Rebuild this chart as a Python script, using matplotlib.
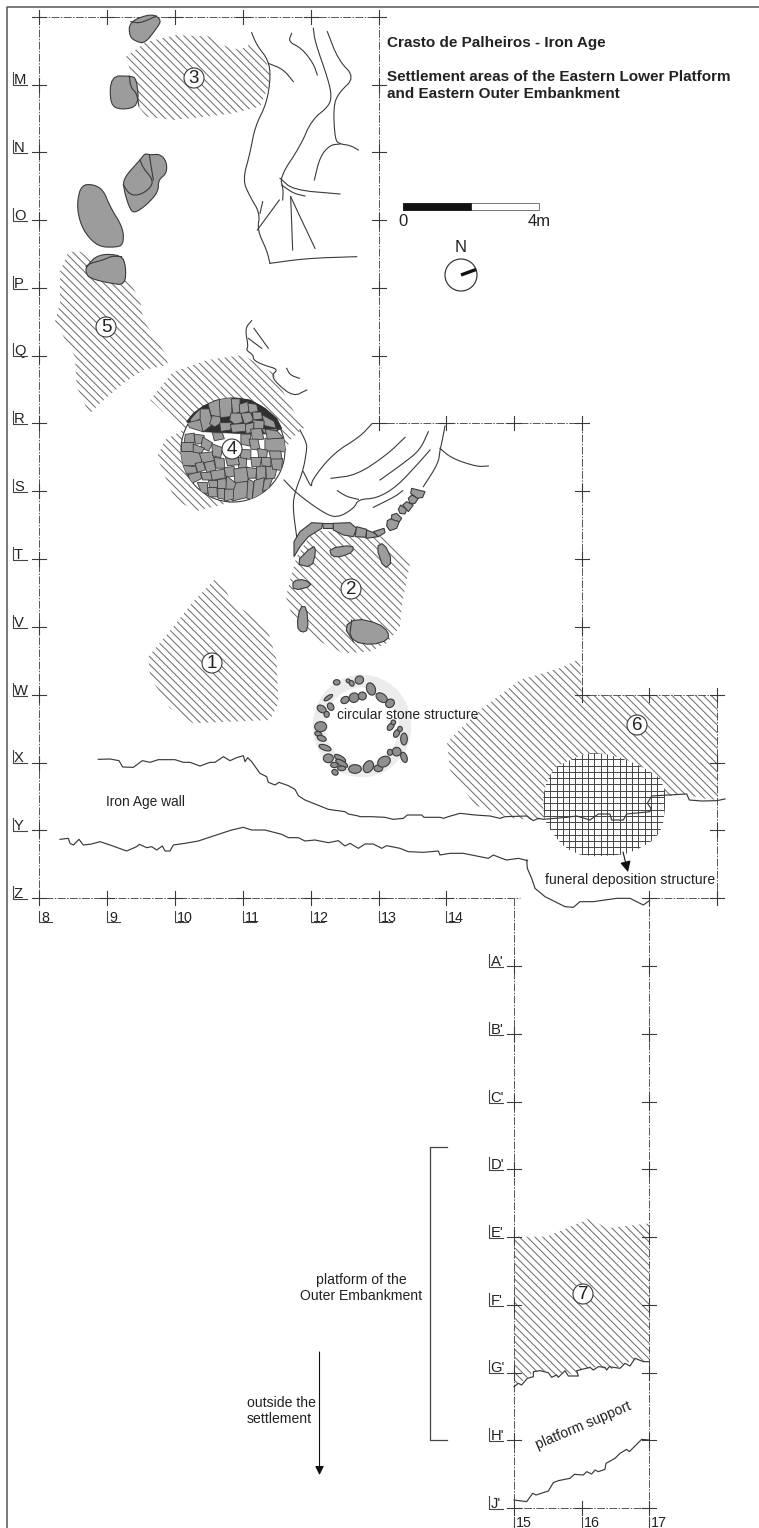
import numpy as np
import matplotlib
matplotlib.use("Agg")
import matplotlib.pyplot as plt
from matplotlib.collections import LineCollection
from matplotlib.patches import Polygon, Circle, Ellipse, Rectangle

plt.rcParams['font.family'] = ['Liberation Sans', 'DejaVu Sans']

# grid of the excavation, pixel positions of the squares
col_x = {8: 39, 9: 107, 10: 175, 11: 243, 12: 311, 13: 379, 14: 446, 15: 514, 16: 582, 17: 649, 18: 717}
row_y = {"L": 16.5, "M": 84.5, "N": 152, "O": 220, "P": 288, "Q": 355.5, "R": 423, "S": 491, "T": 559,
         "V": 627, "W": 695, "X": 762.5, "Y": 830, "Z": 898, "A'": 966, "B'": 1034, "C'": 1102, "D'": 1169,
         "E'": 1237, "F'": 1305, "G'": 1372.5, "H'": 1440, "J'": 1508}
row_labels = ["M", "N", "O", "P", "Q", "R", "S", "T", "V", "W", "X", "Y", "Z"]
row_labels2 = ["A'", "B'", "C'", "D'", "E'", "F'", "G'", "H'", "J'"]
col_labels = [8, 9, 10, 11, 12, 13, 14]
col_labels2 = [15, 16, 17]

# settlement areas (hatched)
area_1 = [(55,950),(130,860),(185,790),(260,712),(290,755),(310,800),(340,810),(410,860),(440,960),(445,1090),(420,1140),(190,1150),(120,1105),(60,1010)]
area_2 = [(500,650),(550,570),(760,590),(840,670),(815,800),(810,860),(770,910),(720,935),(640,940),(560,900),(490,840),(468,770),(488,690)]
area_3 = [(378,170),(440,125),(530,105),(640,110),(665,135),(720,150),(755,130),(800,190),(810,215),(805,260),(780,320),(700,340),(620,350),(520,360),(440,350),(415,320),(400,250),(390,210)]
area_4 = [(150,400),(173,372),(207,360),(243,355),(273,373),(293,410),(305,427),(290,440),(282,462),(240,500),(197,511),(175,500),(157,457),(165,440),(183,430)]
area_5 = [(205,755),(240,755),(300,790),(380,830),(420,900),(430,960),(495,1060),(505,1095),(430,1110),(370,1150),(300,1210),(270,1240),(260,1225),(230,1160),(225,1070),(165,965),(180,910),(180,815)]
area_6 = [(447,742),(480,710),(520,680),(560,668),(580,659),(582,695),(717,695),(717,800),(700,798),(686,794),(662,797),(650,812),(532,820),(510,818),(475,805),(450,770)]
area_7 = [(822,320),(920,320),(1050,265),(1100,295),(1228,280),(1228,695),(1180,690),(1130,715),(1100,718),(1075,710),(1050,715),(1015,718),(1010,740),(975,725),(945,740),(925,725),(880,725),(860,745),(822,770)]
funeral = [(170,40),(215,40),(280,55),(345,85),(405,125),(405,230),(385,290),(330,325),(280,345),(165,350),(105,325),(60,270),(40,230),(40,150),(70,85),(120,60)]

# big stones with their inner joints
stones_top = [
    [(388,65),(455,40),(485,60),(470,85),(435,130),(410,125),(388,110)],
    [(332,228),(390,228),(410,235),(417,318),(365,330),(330,315)],
    [(370,535),(420,480),(435,460),(450,465),(480,462),(500,485),(500,520),(475,540),(475,575),(440,615),(400,642),(385,615),(372,570)],
    [(232,600),(245,555),(280,553),(310,570),(330,620),(370,685),(370,735),(345,742),(295,740),(255,700),(235,650)],
    [(258,800),(295,762),(365,765),(378,800),(375,855),(330,850),(270,835),(258,820)],
]
joints_top = [
    [(392,65),(420,70),(470,48)],
    [(388,228),(392,262),(410,280),(417,318)],
    [(420,480),(430,505),(460,540),(450,565),(420,585),(390,585),(370,555)],
    [(448,465),(460,540)],
    [(258,800),(270,790),(310,780),(335,768),(365,770)],
]
terrain_top = [
    [(755,98),(770,135),(805,180),(812,230),(800,310),(765,380),(750,460),(728,540),(750,590),(780,640),(772,690),(800,750),(810,790)],
    [(810,790),(920,775),(1070,770)],
    [(780,640),(788,605)],
    [(772,690),(838,600)],
    [(805,190),(850,208),(880,245)],
    [(875,100),(865,125),(905,145),(940,190),(952,225)],
    [(940,85),(945,125),(985,240),(995,290),(985,320),(935,360),(900,440),(840,530),(850,570),(848,600)],
    [(982,95),(1015,180),(1065,232),(1015,280),(1000,320),(1005,420),(1020,432),(1050,436),(1075,450)],
    [(1020,432),(990,435),(960,470),(943,540)],
    [(840,535),(880,570),(1020,582)],
    [(845,555),(880,580),(915,588)],
    [(872,590),(878,750)],
    [(872,590),(900,650),(945,745)],
    [(755,962),(735,985),(745,1040),(738,1050),(760,1065),(760,1080),(790,1095),(835,1108),(815,1125),(830,1150),(880,1190),(920,1170)],
    [(762,985),(805,1045)],
    [(745,1015),(785,1045)],
    [(860,1105),(870,1125),(898,1135)],
]
terrain_mid = [
    [(510,270),(530,310),(530,330),(520,390),(495,455),(488,500),(500,590)],
    [(462,420),(500,460),(575,515),(620,535),(672,505),(685,478),(740,475),(800,440),(865,370),(900,330)],
    [(622,452),(650,470),(685,478)],
    [(725,252),(690,290),(610,340),(545,420),(545,445),(520,395)],
    [(603,415),(680,405),(770,345),(825,292)],
    [(750,420),(820,370),(870,330),(895,275)],
    [(730,502),(795,470),(818,452)],
    [(945,258),(935,310),(930,330),(925,370),(880,440)],
    [(930,325),(965,355),(1040,380),(1075,378)],
]
# tiles of the curved stone line above area 2
arc_tiles = [
    [(492,650),(492,605),(510,575),(545,548),(578,550),(575,565),(535,590),(510,620)],
    [(575,548),(608,548),(608,565),(578,565)],
    [(610,550),(660,548),(680,565),(670,590),(640,585),(610,570)],
    [(680,560),(710,568),(708,592),(675,590)],
    [(710,570),(735,580),(745,590),(708,595)],
    [(730,575),(762,565),(765,578),(745,590)],
]
arc_chain = [
    [(322,212),(335,205),(358,215),(350,235),(330,242),(320,228)],
    [(335,195),(350,190),(365,205),(358,215),(335,208)],
    [(355,178),(362,165),(380,178),(375,192),(360,190)],
    [(368,165),(380,155),(400,165),(385,185)],
    [(385,145),(395,135),(415,145),(405,160),(390,160)],
    [(395,115),(435,125),(428,142),(412,145),(392,130)],
]
stones_t = [
    [(495,670),(550,615),(558,635),(545,683)],
    [(598,625),(668,615),(670,635),(635,650),(605,650)],
    [(738,620),(762,608),(788,665),(762,688)],
    [(488,722),(525,718),(548,738),(490,752)],
    [(510,800),(530,800),(535,870),(515,878),(500,860)],
    [(642,860),(680,835),(745,850),(775,875),(775,900),(725,915),(670,905)],
]
arc_joint = [(665,840),(660,880),(670,905)]

# paved circle of area 4
paving_dark = [(50,95),(70,70),(100,48),(140,30),(190,25),(240,30),(285,55),(320,85),(335,115),(300,132),(200,130),(100,125)]
paving_stones = [
    [(148,28),(183,28),(182,75),(150,78)],[(115,35),(145,30),(148,78),(125,72)],[(90,62),(115,62),(125,100),(100,120),(90,100)],
    [(60,70),(88,62),(88,85),(65,100)],[(128,80),(148,82),(150,98),(135,108),(122,100)],[(186,30),(208,30),(208,62),(190,70)],
    [(210,45),(232,38),(235,62),(212,70)],[(236,42),(258,45),(262,62),(240,68)],[(185,72),(210,72),(215,95),(195,100),(182,90)],
    [(152,100),(182,100),(180,118),(155,122)],[(216,72),(240,70),(248,90),(225,100)],[(250,68),(272,68),(275,85),(252,88)],
    [(280,78),(310,95),(315,112),(285,105)],[(250,92),(280,95),(278,115),(255,118)],[(185,105),(225,102),(225,122),(190,125)],
    [(228,105),(250,100),(248,125),(230,128)],[(278,118),(320,118),(308,130),(285,128)],[(55,100),(88,92),(95,122),(62,112)],
    [(290,148),(342,148),(342,182),(290,180)],[(35,188),(90,188),(90,222),(38,225)],[(192,280),(228,278),(232,318),(190,328)],
    [(48,135),(70,132),(72,155),(45,158)],[(75,135),(100,138),(100,158),(78,160)],[(38,160),(68,160),(70,182),(38,182)],
    [(100,145),(125,160),(115,180),(95,172)],[(72,165),(100,175),(92,188),(72,185)],[(92,192),(125,188),(130,210),(100,218)],
    [(40,228),(75,232),(78,248),(48,248)],[(78,222),(98,218),(104,238),(85,245)],[(105,220),(130,215),(135,240),(112,245)],
    [(135,205),(160,208),(162,232),(140,232)],[(130,130),(155,130),(160,145),(135,150)],[(128,165),(155,175),(150,200),(130,195)],
    [(215,135),(240,135),(238,165),(215,160)],[(245,120),(272,118),(278,145),(250,148)],[(290,120),(320,125),(335,142),(295,145)],
    [(240,150),(262,150),(268,178),(245,175)],[(265,178),(290,182),(288,200),(268,200)],[(212,180),(240,182),(240,205),(215,205)],
    [(205,205),(228,208),(226,232),(208,232)],[(170,205),(200,200),(205,222),(175,225)],[(165,235),(190,232),(195,255),(170,260)],
    [(195,240),(230,235),(232,270),(198,275)],[(232,235),(258,238),(255,262),(236,262)],[(262,232),(285,232),(285,262),(262,268)],
    [(290,232),(320,228),(312,262),(292,265)],[(305,205),(335,208),(332,238),(310,235)],[(275,205),(300,205),(300,228),(278,225)],
    [(245,205),(272,205),(268,228),(248,228)],[(300,185),(330,185),(332,205),(305,205)],[(58,255),(88,248),(92,265),(65,278)],
    [(95,250),(120,248),(125,268),(100,268)],[(125,245),(160,240),(162,262),(130,268)],[(85,280),(110,280),(112,308),(95,305)],
    [(115,295),(138,292),(140,318),(118,318)],[(142,272),(165,268),(170,295),(145,295)],[(115,272),(138,272),(138,290),(118,290)],
    [(165,300),(188,298),(188,325),(165,330)],[(172,262),(195,280),(190,295),(170,295)],[(235,272),(250,280),(245,325),(232,320)],
    [(255,275),(280,268),(275,310),(250,322)],[(285,270),(305,268),(295,295),(280,300)],[(145,298),(162,298),(162,325),(145,322)],
]

# circular stone structure: x, y, width, height, angle
ring_stones = [
    (110,52,20,16,0),(145,48,14,11,30),(155,55,14,18,-30),(178,45,26,24,-30),(213,72,26,38,-20),(245,98,38,24,35),
    (270,115,24,28,50),(85,98,30,11,-35),(135,105,26,20,-30),(162,98,30,28,-30),(187,93,24,24,0),(92,125,18,24,-30),
    (65,132,30,20,35),(80,148,16,18,0),(62,185,36,30,0),(55,207,22,14,20),(65,220,28,16,20),(75,248,38,16,20),
    (85,280,30,26,0),(120,280,38,16,30),(125,295,40,16,30),(103,300,22,16,0),(105,322,20,16,30),(125,310,24,14,0),
    (165,312,38,26,0),(205,305,28,38,30),(235,310,26,20,0),(252,290,40,30,-30),(270,262,16,18,0),(290,260,26,26,30),
    (312,277,18,32,-20),(312,222,20,36,0),(290,205,26,16,-60),(272,185,26,16,-50),(300,192,14,16,0),(280,172,14,14,0),
]

# walls, one list per crop
wall_upper_a = [(130,43),(165,42),(192,47),(203,66),(235,67),(262,47),(285,52),(310,44),(360,44),(385,52),(405,52),(435,63),(465,52),(480,52),(505,35),(525,47),(545,38),(565,32),(570,50),(578,38),(590,50),(615,85),(635,95),(640,112),(660,120),(672,112),(700,122),(720,133),(730,152),(750,165),(780,177)]
wall_upper_b = [(45,42),(85,58),(135,65),(145,72),(175,78),(180,80),(215,80),(255,82),(280,88),(310,85),(322,75),(365,75),(372,82),(420,82),(430,85),(445,80),(480,70),(525,75),(570,78),(600,85),(615,80),(680,78),(700,92),(715,85)]
wall_upper_c = [(70,88),(140,82),(170,78),(210,90),(235,72),(270,72),(275,90),(310,90),(320,72),(390,65),(393,55),(382,40),(395,18),(445,15),(500,12),(508,30),(545,33),(590,32),(615,27)]
wall_lower_a = [(15,283),(40,280),(45,295),(55,300),(72,283),(85,300),(110,297),(135,290),(165,300),(215,318),(245,305),(253,298),(275,308),(290,305),(305,315),(322,303),(330,318),(345,318),(355,300),(390,295),(430,288),(490,268),(530,255),(565,247),(590,255),(630,255),(680,268),(700,278),(730,278),(750,288),(780,285)]
wall_lower_b = [(45,150),(85,158),(115,152),(135,168),(150,160),(175,175),(195,162),(220,162),(245,175),(260,167),(300,175),(325,185),(370,187),(415,183),(420,195),(450,190),(490,190),(540,200),(565,205),(580,195),(605,205),(620,210),(655,205),(683,212)]
wall_lower_c = [(20,210),(22,235),(35,265),(45,295),(75,320),(135,350),(160,352),(180,335),(220,335),(290,325),(330,325),(370,345),(388,332)]
platform_edge = [(822,770),(835,760),(845,765),(862,745),(880,740),(880,725),(900,722),(925,728),(935,742),(950,735),(955,742),(975,722),(985,738),(1015,738),(1010,722),(1050,712),(1060,720),(1075,710),(1095,712),(1100,720),(1108,710),(1140,715),(1155,700),(1170,708),(1185,685),(1210,695),(1228,695)]
platform_support = [(822,1110),(860,1115),(878,1090),(888,1095),(925,1083),(940,1058),(955,1052),(990,1045),(1003,1033),(1030,1035),(1040,1025),(1055,1032),(1065,1020),(1075,1025),(1095,1018),(1098,1000),(1125,985),(1140,970),(1160,958),(1168,965),(1205,928),(1228,930)]

area_numbers = {"1": (212,663), "2": (351,589), "3": (194,78), "4": (232,449), "5": (106,327), "6": (637,725), "7": (583,1294)}

TEXT = '#222222'
LINE = '#3a3a3a'
STONE = '#9c9c9c'


def crop(pts, x0, y0, sx=3.0, sy=3.0):
    # positions were read on zoomed crops, back to image pixels
    return [(x0 + x / sx, y0 + y / sy) for x, y in pts]


def rounded(pts, closed=True, n=2):
    # corner cutting so that stones and terrain do not look like polygons
    for _ in range(n):
        out = [] if closed else [pts[0]]
        m = len(pts) if closed else len(pts) - 1
        for i in range(m):
            a, b = pts[i], pts[(i + 1) % len(pts)]
            out.append((0.75 * a[0] + 0.25 * b[0], 0.75 * a[1] + 0.25 * b[1]))
            out.append((0.25 * a[0] + 0.75 * b[0], 0.25 * a[1] + 0.75 * b[1]))
        if not closed:
            out.append(pts[-1])
        pts = out
    return pts


def grown(pts, f):
    c = np.mean(pts, axis=0)
    return [(c[0] + f * (x - c[0]), c[1] + f * (y - c[1])) for x, y in pts]


fig = plt.figure(figsize=(7.59, 15.28), dpi=100)
ax = fig.add_axes([0, 0, 1, 1])
ax.set_xlim(0, 759)
ax.set_ylim(1528, 0)
ax.axis('off')


def hatch(pts, step=7.8, color='#707070', lw=0.75):
    poly = Polygon(pts, closed=True, fill=False, edgecolor='none')
    ax.add_patch(poly)
    arr = np.array(pts)
    c = arr[:, 1] - arr[:, 0]
    x0, x1 = arr[:, 0].min() - 5, arr[:, 0].max() + 5
    segs = [[(x0, x0 + k), (x1, x1 + k)] for k in np.arange(np.floor(c.min() / step) * step, c.max() + step, step)]
    lc = LineCollection(segs, colors=color, linewidths=lw, zorder=1)
    ax.add_collection(lc)
    lc.set_clip_path(poly)


def line(pts, lw=0.8, color=LINE, z=4, **kw):
    ax.plot([p[0] for p in pts], [p[1] for p in pts], color=color, lw=lw, zorder=z, solid_joinstyle='round', **kw)


def stone(pts, lw=0.8, z=3):
    return ax.add_patch(Polygon(pts, closed=True, facecolor=STONE, edgecolor=LINE, lw=lw, zorder=z))


# frame
line([(759, 7), (7, 7), (7, 1528)], lw=1.1, color='#555555')

# hatched areas
hatch(crop(area_1, 130, 340))
hatch(crop(area_2, 130, 340))
hatch(crop(area_3, 0, 0))
hatch(area_4)
hatch(crop(area_5, 0, 0))
hatch(area_6)
hatch(crop(area_7, 240, 1130))

# funeral structure, squared
fun = rounded(crop(funeral, 530, 740), n=1)
ax.add_patch(Polygon(fun, closed=True, facecolor='white', edgecolor='none', zorder=1.5))
fun_clip = Polygon(fun, closed=True, fill=False, edgecolor='none')
ax.add_patch(fun_clip)
fx = np.arange(544, 668, 6.3)
fy = np.arange(753, 860, 6.3)
segs = [[(x, 745), (x, 865)] for x in fx] + [[(535, y), (675, y)] for y in fy]
lc = LineCollection(segs, colors='#444444', linewidths=0.7, zorder=2)
ax.add_collection(lc)
lc.set_clip_path(fun_clip)

# grid lines
dash = (0, (8, 1.5, 1.5, 1.5))
grid_lines = [
    [(39, 16.5), (379, 16.5), (379, 423), (582, 423), (582, 695), (717, 695), (717, 898), (649, 898)],
    [(39, 16.5), (39, 898), (520, 898)],
    [(514, 898), (514, 1508), (649, 1508), (649, 898)],
]
for g in grid_lines:
    ax.plot([p[0] for p in g], [p[1] for p in g], color='#555555', lw=0.7, ls=dash, zorder=2)

crosses = [(col_x[c], row_y["L"]) for c in (8, 9, 10, 11, 12, 13)]
crosses += [(col_x[8], row_y[r]) for r in row_labels]
crosses += [(col_x[13], row_y[r]) for r in ("M", "N", "O", "P", "Q", "R")]
crosses += [(col_x[c], row_y["R"]) for c in (14, 15, 16)]
crosses += [(col_x[16], row_y[r]) for r in ("S", "T", "V", "W")]
crosses += [(col_x[c], row_y["W"]) for c in (17, 18)]
crosses += [(col_x[18], row_y[r]) for r in ("X", "Y", "Z")]
crosses += [(col_x[c], row_y["Z"]) for c in (9, 10, 11, 12, 13, 14, 17)]
for r in row_labels2:
    crosses += [(col_x[15], row_y[r]), (col_x[17], row_y[r])]
crosses += [(col_x[16], row_y["J'"])]
for cx, cy in crosses:
    ax.plot([cx - 7, cx + 7], [cy, cy], color=LINE, lw=0.8, zorder=2.5)
    ax.plot([cx, cx], [cy - 7, cy + 7], color=LINE, lw=0.8, zorder=2.5)

# row and column labels with their little corners
for r in row_labels + row_labels2:
    lx = 12.5 if r in row_labels else 489
    ry = row_y[r]
    line([(lx, ry - 12.5), (lx, ry + 0.5), (lx + 14, ry + 0.5)], lw=0.8, color='#444444')
    ax.text(lx + 1.5, ry - 0.3, r, fontsize=10.6, color=TEXT, ha='left', va='baseline')
for c in col_labels:
    cx = col_x[c]
    line([(cx, 911), (cx, 922), (cx + 13, 922)], lw=0.8, color='#444444')
    ax.text(cx + 2, 921.5, str(c), fontsize=10.3, color=TEXT, ha='left', va='baseline')
for c in col_labels2:
    cx = col_x[c]
    line([(cx, 1517), (cx, 1528)], lw=0.8, color='#444444')
    ax.text(cx + 1.5, 1526.8, str(c), fontsize=10.3, color=TEXT, ha='left', va='baseline')

# terrain and big stones
for s in stones_top:
    stone(rounded(crop(s, 0, 0)))
for j in joints_top:
    line(rounded(crop(j, 0, 0), closed=False), z=3.5)
for t in terrain_top:
    line(rounded(crop(t, 0, 0), closed=False))
for t in terrain_mid:
    line(rounded(crop(t, 130, 340), closed=False))
for s in arc_tiles:
    stone(crop(s, 130, 340))
for s in arc_chain:
    stone(crop(s, 280, 450))
for s in stones_t:
    stone(rounded(crop(s, 130, 340), n=1))
line(crop(arc_joint, 130, 340), z=3.5)

# paved circle
disc = Circle((233, 450), 52, facecolor='white', edgecolor=LINE, lw=0.8, zorder=2.6)
ax.add_patch(disc)
ax.add_patch(Polygon(crop(paving_dark, 170, 390), closed=True, facecolor='#2f2f2f', edgecolor='#2f2f2f', lw=0.6, zorder=2.7))
for s in paving_stones:
    st = stone(grown(crop(s, 170, 390), 1.2), lw=0.6)
    st.set_clip_path(disc)

# ring of stones
ax.add_patch(Ellipse((362, 726), 86, 90, fill=False, edgecolor='#ececec', lw=9, zorder=1))
for x, y, w, h, a in ring_stones:
    px, py = crop([(x, y)], 300, 665)[0]
    ax.add_patch(Ellipse((px, py), w / 3, h / 3, angle=a, facecolor='#8f8f8f', edgecolor='#3a3a3a', lw=0.8, zorder=3))

# walls
wall_upper = crop(wall_upper_a, 55, 745) + crop(wall_upper_b, 300, 790) + crop(wall_upper_c, 520, 790)
wall_lower = crop(wall_lower_a, 55, 745) + crop(wall_lower_b, 300, 790) + crop(wall_lower_c, 520, 790)
line(wall_upper, lw=0.85)
line(wall_lower, lw=0.85)
line(crop(platform_edge, 240, 1130), lw=0.85)
line(crop(platform_support, 240, 1130), lw=0.85)

# numbers of the areas
for n, (x, y) in area_numbers.items():
    ax.add_patch(Circle((x, y), 10, facecolor='white', edgecolor=LINE, lw=0.8, zorder=5))
    ax.text(x, y + 0.3, n, fontsize=13.5, color=TEXT, ha='center', va='center', zorder=6)

# title
ax.text(387, 47, "Crasto de Palheiros - Iron Age", fontsize=11, fontweight='bold', color=TEXT, va='baseline')
ax.text(387, 81, "Settlement areas of the Eastern Lower Platform", fontsize=11, fontweight='bold', color=TEXT, va='baseline')
ax.text(387, 98, "and Eastern Outer Embankment", fontsize=11, fontweight='bold', color=TEXT, va='baseline')

# scale bar and north
ax.add_patch(Rectangle((403, 203), 136, 7, facecolor='white', edgecolor='#777777', lw=0.7))
ax.add_patch(Rectangle((403, 203), 68, 7, facecolor='#111111', edgecolor='#111111', lw=0.5))
ax.text(403, 221, "0", fontsize=12, color=TEXT, ha='center', va='center')
ax.text(539, 221, "4m", fontsize=12, color=TEXT, ha='center', va='center')
ax.text(461, 247, "N", fontsize=12, color=TEXT, ha='center', va='center')
ax.add_patch(Circle((461, 275), 16, facecolor='white', edgecolor=LINE, lw=0.9))
ax.plot([461, 476], [275, 269.5], color='#111111', lw=2.4, solid_capstyle='butt')

# labels on the plan
ax.text(145, 802, "Iron Age wall", fontsize=9.9, color=TEXT, ha='center', va='center')
ax.text(408, 715, "circular stone structure", fontsize=10, color=TEXT, ha='center', va='center', zorder=6)
ax.text(630.5, 880, "funeral deposition structure", fontsize=10.1, color=TEXT, ha='center', va='center', zorder=6)
ax.annotate("", xy=(628, 872), xytext=(623, 852),
            arrowprops=dict(arrowstyle='-|>', color='#111111', lw=0.8, mutation_scale=16, shrinkA=0, shrinkB=0))
ax.text(361.5, 1288, "platform of the\nOuter Embankment", fontsize=10.1, color=TEXT, ha='center', va='center', linespacing=1.27)
ax.text(247, 1411, "outside the\nsettlement", fontsize=10.1, color=TEXT, ha='left', va='center', linespacing=1.27)
ax.text(583, 1426, "platform support", fontsize=10.1, color=TEXT, ha='center', va='center', rotation=23)

# bracket and arrow of the outer embankment
line(crop([(620,50),(570,50),(570,930),(620,930)], 240, 1130), lw=0.9, color='#444444')
ax.annotate("", xy=(319.5, 1475), xytext=(319.5, 1352),
            arrowprops=dict(arrowstyle='-|>', color='#111111', lw=0.8, mutation_scale=13, shrinkA=0, shrinkB=0))

fig.savefig('out.png', dpi=100, facecolor='white')
